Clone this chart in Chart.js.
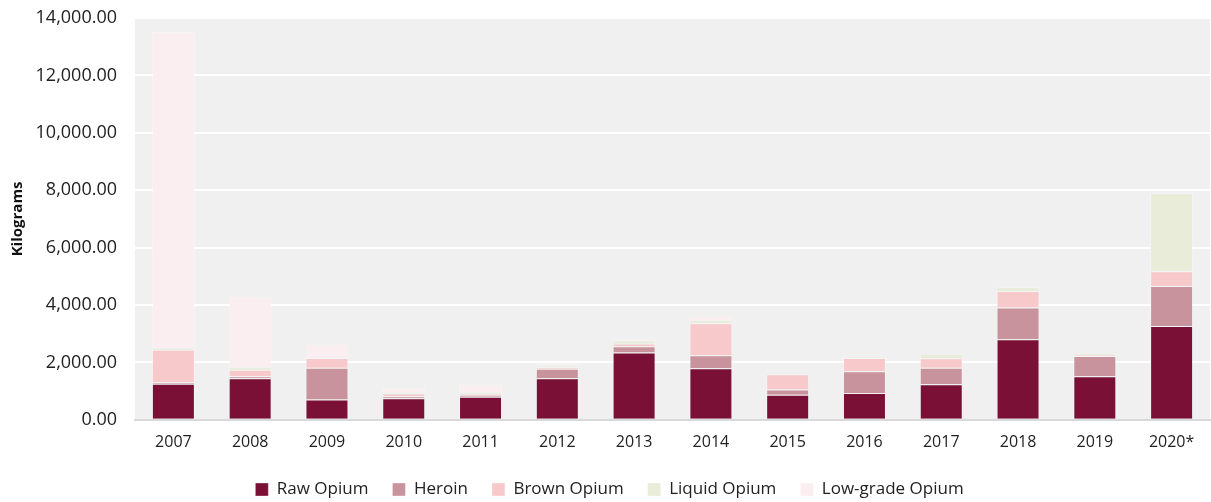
<!DOCTYPE html>
<html>
<head>
<meta charset="utf-8">
<script src="https://cdn.jsdelivr.net/npm/chart.js@4"></script>
<style>
  html, body { margin: 0; padding: 0; background: #fff; }
  #wrap { width: 1211px; height: 502px; }
</style>
</head>
<body>
<div id="wrap"><canvas id="opiumChart" width="1211" height="502"></canvas></div>
<script>
// Datos (kg)
const years = ['2007', '2008', '2009', '2010', '2011', '2012', '2013', '2014', '2015', '2016', '2017', '2018', '2019', '2020*'];
const rawOpium      = [1256, 1450, 710, 750, 800, 1450, 2345, 1800, 870, 930, 1240, 2810, 1520, 3265];
const heroin        = [55, 70, 1105, 70, 70, 330, 220, 445, 185, 765, 570, 1105, 700, 1395];
const brownOpium    = [1130, 220, 335, 95, 35, 55, 95, 1115, 535, 455, 335, 570, 35, 515];
const liquidOpium   = [70, 90, 0, 35, 45, 50, 105, 105, 15, 50, 155, 130, 50, 2720];
const lowGradeOpium = [11000, 2440, 475, 165, 290, 55, 70, 130, 20, 35, 20, 35, 35, 0];
const yTicks = [0, 2000, 4000, 6000, 8000, 10000, 12000, 14000];

const FONT = "'Open Sans', 'Liberation Sans', sans-serif";

// Fondo gris del área del gráfico
const plotBackground = {
    id: 'plotBackground',
    beforeDraw(chart) {
        const { ctx, chartArea } = chart;
        ctx.save();
        ctx.fillStyle = '#eff0ef';
        ctx.fillRect(chartArea.left, chartArea.top, chartArea.right - chartArea.left, chartArea.bottom - chartArea.top);
        ctx.restore();
    }
};

function serie(label, data, color) {
    return {
        label: label,
        data: data,
        backgroundColor: color,
        borderColor: 'rgba(255,255,255,0.35)',
        borderWidth: 1,
        barPercentage: 0.56,
        categoryPercentage: 1.0
    };
}

new Chart(document.getElementById('opiumChart'), {
    type: 'bar',
    data: {
        labels: years,
        datasets: [
            serie('Raw Opium', rawOpium, '#7a1036'),
            serie('Heroin', heroin, '#c9939d'),
            serie('Brown Opium', brownOpium, '#f8c9cb'),
            serie('Liquid Opium', liquidOpium, '#e8ecd8'),
            serie('Low-grade Opium', lowGradeOpium, '#fbeef0')
        ]
    },
    options: {
        responsive: false,
        animation: false,
        layout: { padding: { top: 0, right: 1, left: 9, bottom: -6 } },
        plugins: {
            legend: {
                position: 'bottom',
                labels: {
                    boxWidth: 13,
                    boxHeight: 13,
                    padding: 24,
                    color: '#222',
                    font: { family: FONT, size: 17 }
                }
            },
            tooltip: { enabled: false }
        },
        scales: {
            x: {
                stacked: true,
                grid: { display: false },
                border: { display: true, color: '#d9d9d9', width: 2 },
                ticks: { color: '#222', padding: 5, font: { family: FONT, size: 16 } }
            },
            y: {
                stacked: true,
                min: 0,
                max: 14000,
                afterBuildTicks: function(axis) {
                    axis.ticks = yTicks.map(v => ({ value: v }));
                },
                afterFit: function(scale) {
                    scale.width = 126;
                    scale.paddingTop = 18;
                },
                grid: { color: '#ffffff', lineWidth: 2, drawTicks: false },
                border: { display: false },
                title: {
                    display: true,
                    text: 'Kilograms',
                    color: '#111',
                    font: { family: FONT, size: 15, weight: 'bold' },
                    padding: { top: 0, bottom: 6 }
                },
                ticks: {
                    color: '#222',
                    padding: 18,
                    font: { family: FONT, size: 18 },
                    callback: function(value) {
                        return value.toLocaleString('en-US', { minimumFractionDigits: 2, maximumFractionDigits: 2 });
                    }
                }
            }
        }
    },
    plugins: [plotBackground]
});
</script>
</body>
</html>
